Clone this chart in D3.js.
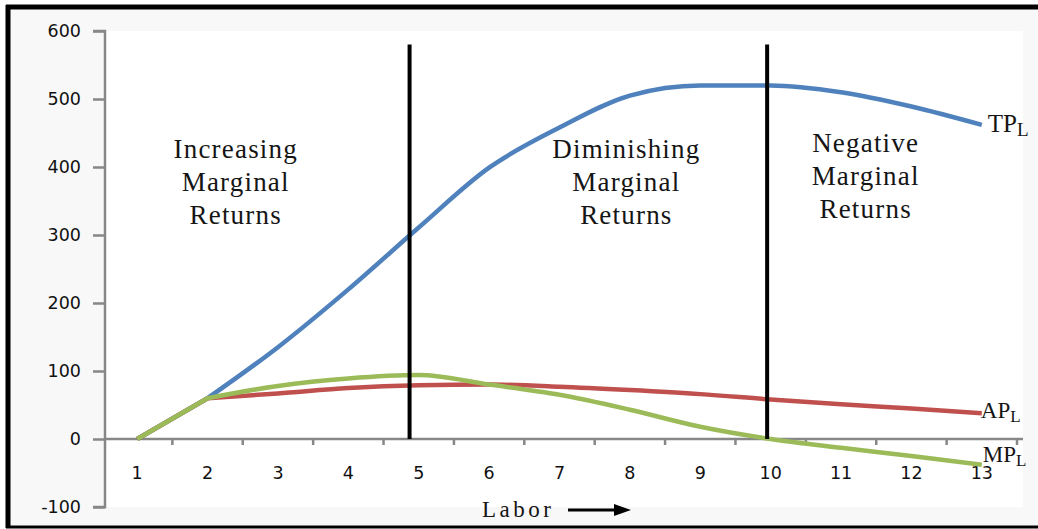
<!DOCTYPE html>
<html>
<head>
<meta charset="utf-8">
<script src="https://cdn.jsdelivr.net/npm/d3@7"></script>
<style>
  body { margin: 0; background: #ffffff; }
  svg { display: block; }
</style>
</head>
<body>
<div id="chart"></div>
<script>
// data
var labor = [1, 2, 3, 4, 5, 6, 7, 8, 9, 10, 11, 12, 13];
var tpValues = [0, 60, 135, 220, 311, 399, 458, 505, 520, 520, 510, 489, 462];
var apValues = [0, 60, 67, 75, 79, 80, 77, 72, 66, 58, 51, 45, 38];
var mpValues = [0, 60, 78, 89, 94, 80, 65, 43, 18, 0, -13, -25, -38];
var yTicks = [-100, 0, 100, 200, 300, 400, 500, 600];
var dividers = [4.87, 9.95];   // labor values where the stage lines sit
var dividerTop = 580;
var regions = [
    { at: 2.4, lines: ["Increasing", "Marginal", "Returns"] },
    { at: 7.95, lines: ["Diminishing", "Marginal", "Returns"] },
    { at: 11.35, lines: ["Negative", "Marginal", "Returns"] }
];

var W = 1038, H = 529;
var plot = { left: 105, right: 1023, top: 31, bottom: 507 };

var svg = d3.select("#chart")
    .append("svg")
    .attr("width", W)
    .attr("height", H);

// frame: grey card with a black edge on top, left and bottom
svg.append("rect")
    .attr("x", 0).attr("y", 0).attr("width", W).attr("height", H)
    .attr("fill", "#ffffff");
svg.append("rect")
    .attr("x", 10).attr("y", 9).attr("width", W - 10).attr("height", 516)
    .attr("fill", "#f8f8f8");
svg.append("line")
    .attr("x1", 6).attr("x2", W).attr("y1", 7).attr("y2", 7)
    .attr("stroke", "#000").attr("stroke-width", 5);
svg.append("line")
    .attr("x1", 8).attr("x2", 8).attr("y1", 5).attr("y2", 528)
    .attr("stroke", "#000").attr("stroke-width", 5);
svg.append("line")
    .attr("x1", 6).attr("x2", W).attr("y1", 527).attr("y2", 527)
    .attr("stroke", "#000").attr("stroke-width", 3);

// white plot area
svg.append("rect")
    .attr("x", plot.left).attr("y", plot.top)
    .attr("width", plot.right - plot.left)
    .attr("height", plot.bottom - plot.top)
    .attr("fill", "#ffffff");

// scales
var x = d3.scalePoint()
    .domain(labor)
    .range([102, 1017])
    .padding(0.5);
var step = x.step();
var xl = d3.scaleLinear()
    .domain([1, 13])
    .range([x(1), x(13)]);
var y = d3.scaleLinear()
    .domain([-100, 600])
    .range([plot.bottom, plot.top]);

var axisColor = "#878787";
var tickFont = "'DejaVu Sans', Verdana, sans-serif";

// y axis
var yAxis = svg.append("g")
    .attr("transform", "translate(" + plot.left + ",0)")
    .call(d3.axisLeft(y).tickValues(yTicks).tickSize(12).tickPadding(12).tickFormat(d => String(d)));
yAxis.select(".domain")
    .attr("stroke", axisColor).attr("stroke-width", 2.5)
    .attr("d", "M-12," + y(600) + "H0V" + y(-100) + "H-12");
yAxis.selectAll(".tick line").attr("stroke", axisColor).attr("stroke-width", 2.5);
yAxis.selectAll(".tick text")
    .attr("fill", "#111")
    .style("font-family", tickFont)
    .style("font-size", "17.5px");

// x axis along zero
var xAxis = svg.append("g");
xAxis.append("line")
    .attr("x1", plot.left).attr("x2", plot.right)
    .attr("y1", y(0)).attr("y2", y(0))
    .attr("stroke", axisColor).attr("stroke-width", 2.5);
xAxis.selectAll(".xtick")
    .data(labor)
    .enter()
    .append("line")
    .attr("x1", d => x(d) + step / 2)
    .attr("x2", d => x(d) + step / 2)
    .attr("y1", y(0))
    .attr("y2", y(0) + 6)
    .attr("stroke", axisColor).attr("stroke-width", 2.5);
xAxis.selectAll(".xlab")
    .data(labor)
    .enter()
    .append("text")
    .attr("x", d => x(d))
    .attr("y", y(0) + 40)
    .attr("text-anchor", "middle")
    .attr("fill", "#111")
    .style("font-family", tickFont)
    .style("font-size", "17.5px")
    .text(d => d);

// series lines: straight first segment, smoothed from the second point on
var series = [
    { name: "TP", values: tpValues, color: "#4f81bd" },
    { name: "AP", values: apValues, color: "#c0504d" },
    { name: "MP", values: mpValues, color: "#9bbb59" }
];
var smooth = d3.line()
    .x(d => x(d[0]))
    .y(d => y(d[1]))
    .curve(d3.curveMonotoneX);
var straight = d3.line()
    .x(d => x(d[0]))
    .y(d => y(d[1]));

function seriesPath(values) {
    var pts = labor.map((l, i) => [l, values[i]]);
    var head = straight(pts.slice(0, 2));
    var tail = smooth(pts.slice(1));
    return head + "L" + tail.slice(1);
}

svg.append("g")
    .selectAll("path")
    .data(series)
    .enter()
    .append("path")
    .attr("d", d => seriesPath(d.values))
    .attr("fill", "none")
    .attr("stroke", d => d.color)
    .attr("stroke-width", 4.5)
    .attr("stroke-linejoin", "round");

// stage dividers
svg.append("g")
    .selectAll("line")
    .data(dividers)
    .enter()
    .append("line")
    .attr("x1", d => xl(d)).attr("x2", d => xl(d))
    .attr("y1", y(dividerTop)).attr("y2", y(0))
    .attr("stroke", "#000").attr("stroke-width", 4);

// region captions
var serif = "'Liberation Serif', 'Times New Roman', serif";
var cap = svg.append("g");
regions.forEach(function(r, k) {
    var top = k === 2 ? 152 : 158;
    r.lines.forEach(function(t, j) {
        cap.append("text")
            .attr("x", xl(r.at))
            .attr("y", top + j * 33)
            .attr("text-anchor", "middle")
            .attr("fill", "#151515")
            .style("font-family", serif)
            .style("font-size", "27px")
            .style("letter-spacing", "1.2px")
            .text(t);
    });
});

// series end labels with subscript L
var endLabels = [
    { main: "TP", value: tpValues[12], dx: 6, dy: 7, size: 25 },
    { main: "AP", value: apValues[12], dx: -1, dy: 5, size: 23 },
    { main: "MP", value: mpValues[12], dx: 1, dy: -3, size: 23 }
];
endLabels.forEach(function(l) {
    var t = svg.append("text")
        .attr("x", x(13) + l.dx)
        .attr("y", y(l.value) + l.dy)
        .attr("fill", "#151515")
        .style("font-family", serif)
        .style("font-size", l.size + "px")
        .text(l.main);
    t.append("tspan")
        .attr("dy", 4)
        .style("font-size", (l.size - 6) + "px")
        .text("L");
});

// axis title with arrow
svg.append("text")
    .attr("x", 482)
    .attr("y", 517)
    .attr("fill", "#151515")
    .style("font-family", serif)
    .style("font-size", "23px")
    .style("letter-spacing", "3.5px")
    .text("Labor");
svg.append("line")
    .attr("x1", 568).attr("x2", 618)
    .attr("y1", 510).attr("y2", 510)
    .attr("stroke", "#000").attr("stroke-width", 3);
svg.append("path")
    .attr("d", "M614,504L631,510L614,516Z")
    .attr("fill", "#000");
</script>
</body>
</html>
